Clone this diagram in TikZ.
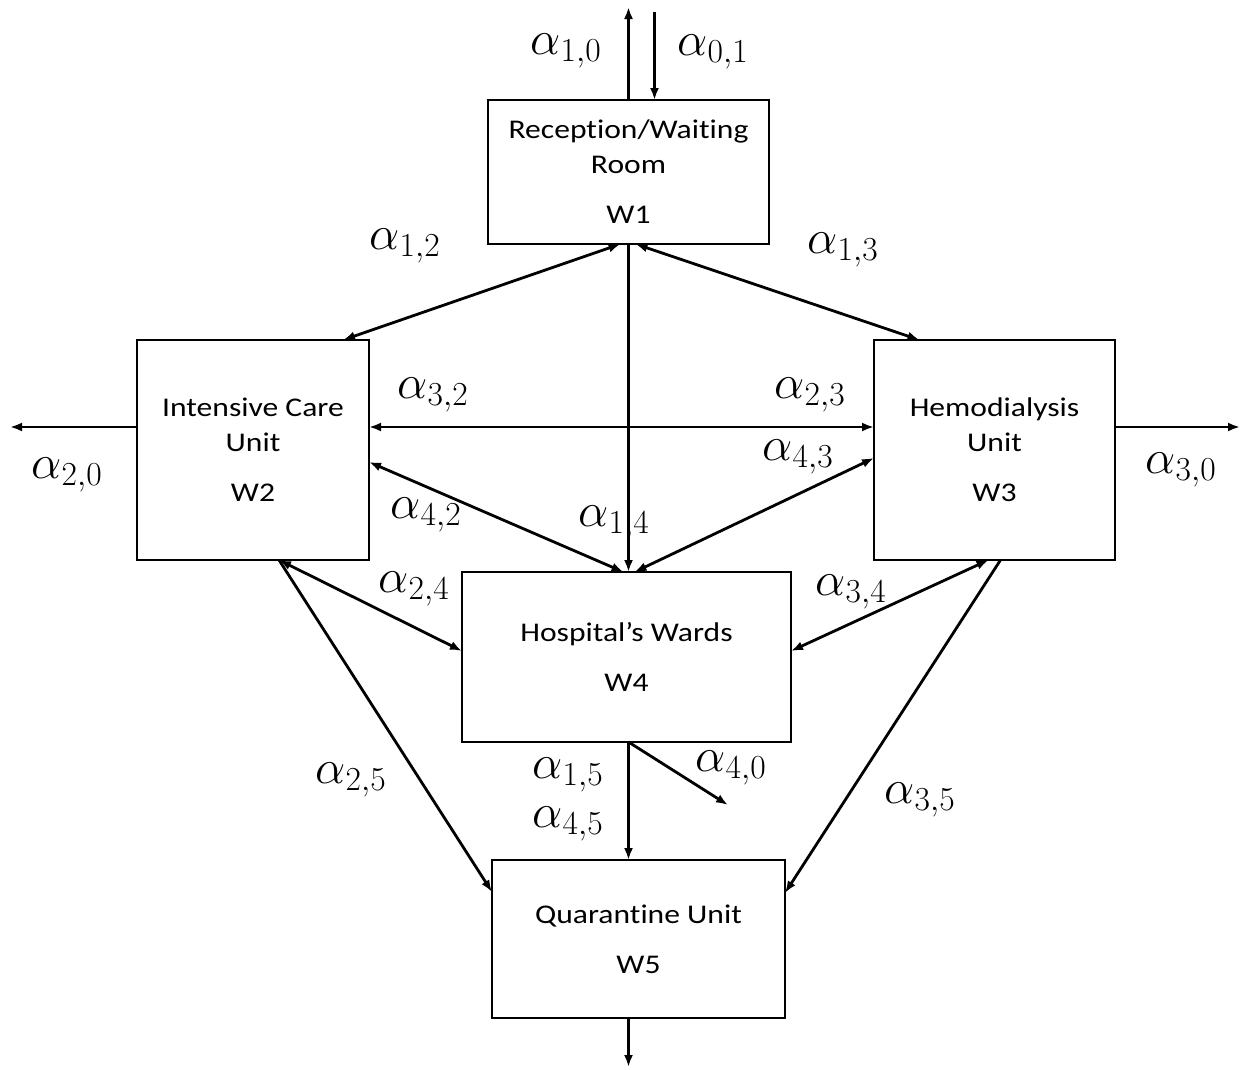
\RequirePackage{fix-cm}
\documentclass[tikz,border=0pt]{standalone}
\usepackage{fontspec}
\newfontfamily\boxfont{Carlito}[FakeStretch=1.17,Ligatures={NoCommon}]
\usetikzlibrary{arrows.meta,calc}
\tikzset{
  ward/.style={draw, line width=1.4pt, inner sep=0pt, outer sep=0pt, align=center,
    font=\boxfont\fontsize{27}{35}\selectfont},
  flow/.style={line width=2.8pt, -{Latex[length=12pt,width=9pt]}},
  flowtwo/.style={line width=2.8pt, {Latex[length=12pt,width=9pt]}-{Latex[length=12pt,width=9pt]}},
  rate/.style={inner sep=0pt, font=\fontsize{48}{52}\selectfont}
}
\begin{document}
\begin{tikzpicture}[x=1pt,y=-1pt]
\fill[white] (0,0) rectangle (1241,1069);
\useasboundingbox (0,0) rectangle (1241,1069);

% wards
\node[ward, minimum width=281pt, minimum height=144pt] (w1) at (628.5,172) {Reception/Waiting\\Room\\[15pt]W1};
\node[ward, minimum width=232pt, minimum height=220pt] (w2) at (253,450) {Intensive Care\\Unit\\[15pt]W2};
\node[ward, minimum width=241pt, minimum height=220pt] (w3) at (994.5,450) {Hemodialysis\\Unit\\[15pt]W3};
\node[ward, minimum width=329pt, minimum height=170pt] (w4) at (626.5,657) {Hospital’s Wards\\[15pt]W4};
\node[ward, minimum width=293pt, minimum height=158pt] (w5) at (638.5,939) {Quarantine Unit\\[15pt]W5};

% free ends
\coordinate (out1) at (628.5,7);
\coordinate (in1) at (654.5,12);
\coordinate (out2) at (10,427);
\coordinate (out3) at (1240,427);
\coordinate (out4) at (728,805);
\coordinate (out5) at (628.5,1067);

% connectors
\draw[flow] (w1.north) -- (out1);
\draw[flow] (in1) -- ($(w1.north)+(26,0)$);
\draw[flowtwo] ($(w1.south)+(-8,0)$) -- ($(w2.north)+(90,0)$);
\draw[flowtwo] ($(w1.south)+(7,0)$) -- ($(w3.north)+(-75,0)$);
\draw[flow] (w1.south) -- ($(w4.north)+(2,0)$);
\draw[flowtwo] ($(w2.east)+(0,-23)$) -- ($(w3.west)+(0,-23)$);
\draw[flowtwo] ($(w2.east)+(0,12)$) -- ($(w4.north)+(-3,0)$);
\draw[flowtwo] ($(w3.west)+(0,8)$) -- ($(w4.north)+(8,0)$);
\draw[flowtwo] ($(w2.south)+(26,0)$) -- ($(w4.west)+(0,-6)$);
\draw[flow] ($(w2.south)+(26,0)$) -- ($(w5.west)+(0,-47)$);
\draw[flowtwo] ($(w3.south)+(-6,0)$) -- ($(w4.east)+(0,-6)$);
\draw[flow] ($(w3.south)+(6,0)$) -- ($(w5.east)+(0,-46)$);
\draw[flow] ($(w2.west)+(0,-23)$) -- (out2);
\draw[flow] ($(w3.east)+(0,-23)$) -- (out3);
\draw[flow] ($(w4.south)+(2,0)$) -- ($(w5.north)+(-10,0)$);
\draw[flow] ($(w4.south)+(2,0)$) -- (out4);
\draw[flow] ($(w5.south)+(-10,0)$) -- (out5);

% rates
\node[rate] (r10) at (566,51) {$\alpha_{1,0}$};
\node[rate] (r01) at (713,52) {$\alpha_{0,1}$};
\node[rate] (r12) at (405,246) {$\alpha_{1,2}$};
\node[rate] (r13) at (843,250) {$\alpha_{1,3}$};
\node[rate] (r32) at (433,395) {$\alpha_{3,2}$};
\node[rate] (r23) at (810,395) {$\alpha_{2,3}$};
\node[rate] (r43) at (798,457) {$\alpha_{4,3}$};
\node[rate] (r42) at (426,515) {$\alpha_{4,2}$};
\node[rate] (r14) at (614,523) {$\alpha_{1,4}$};
\node[rate] (r20) at (67,475) {$\alpha_{2,0}$};
\node[rate] (r30) at (1181,470) {$\alpha_{3,0}$};
\node[rate] (r24) at (414,589) {$\alpha_{2,4}$};
\node[rate] (r34) at (851,592) {$\alpha_{3,4}$};
\node[rate] (r25) at (351,780) {$\alpha_{2,5}$};
\node[rate] (r35) at (920,800) {$\alpha_{3,5}$};
\node[rate] (r15) at (568,775) {$\alpha_{1,5}$};
\node[rate] (r45) at (568,824) {$\alpha_{4,5}$};
\node[rate] (r40) at (731,768) {$\alpha_{4,0}$};
\end{tikzpicture}
\end{document}
